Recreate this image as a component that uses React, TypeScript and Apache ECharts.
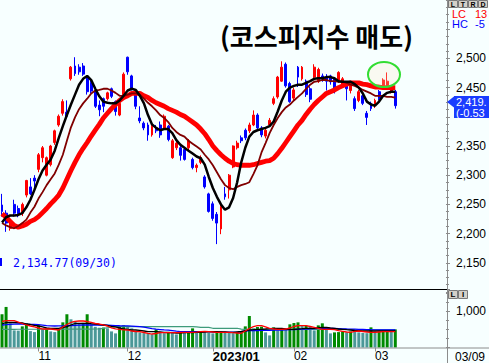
import React, { useEffect, useRef } from 'react';
import * as echarts from 'echarts';

const dates = [
  '2022/10/19','2022/10/20','2022/10/21','2022/10/24','2022/10/25','2022/10/26','2022/10/27','2022/10/28','2022/10/31',
  '2022/11/01','2022/11/02','2022/11/03','2022/11/04','2022/11/07','2022/11/08','2022/11/09','2022/11/10','2022/11/11','2022/11/14','2022/11/15','2022/11/16','2022/11/17','2022/11/18','2022/11/21','2022/11/22','2022/11/23','2022/11/24','2022/11/25','2022/11/28','2022/11/29','2022/11/30',
  '2022/12/01','2022/12/02','2022/12/05','2022/12/06','2022/12/07','2022/12/08','2022/12/09','2022/12/12','2022/12/13','2022/12/14','2022/12/15','2022/12/16','2022/12/19','2022/12/20','2022/12/21','2022/12/22','2022/12/23','2022/12/26','2022/12/27','2022/12/28','2022/12/29',
  '2023/01/02','2023/01/03','2023/01/04','2023/01/05','2023/01/06','2023/01/09','2023/01/10','2023/01/11','2023/01/12','2023/01/13','2023/01/16','2023/01/17','2023/01/18','2023/01/19','2023/01/20','2023/01/25','2023/01/26','2023/01/27','2023/01/30','2023/01/31',
  '2023/02/01','2023/02/02','2023/02/03','2023/02/06','2023/02/07','2023/02/08','2023/02/09','2023/02/10','2023/02/13','2023/02/14','2023/02/15','2023/02/16','2023/02/17','2023/02/20','2023/02/21','2023/02/22','2023/02/23','2023/02/24','2023/02/27','2023/02/28',
  '2023/03/02','2023/03/03','2023/03/06','2023/03/07','2023/03/08','2023/03/09',
];

const opens = [
  2249,2235,2209,2250,2243,2235,2266,2280,2295,2310,
  2330,2300,2318,2356,2386,2406,2408,2465,2487,2485,
  2487,2468,2458,2445,2420,2431,2431,2448,2426,2403,
  2431,2502,2470,2440,2398,2389,2386,2369,2381,2386,
  2381,2384,2330,2347,2347,2344,2347,2327,2313,2322,
  2297,2268,2251,2233,2208,2268,2275,2314,2347,2364,
  2377,2376,2386,2403,2381,2367,2386,2423,2434,2461,
  2490,2457,2432,2485,2465,2461,2448,2468,2461,2470,
  2468,2470,2465,2461,2453,2455,2445,2431,2428,2436,
  2406,2423,2419,2443,2451,2453,2443,2443,
];
const closes = [
  2238,2218,2218,2235,2233,2250,2291,2268,2290,2335,
  2347,2330,2350,2376,2401,2426,2401,2485,2474,2477,
  2473,2443,2444,2418,2412,2418,2441,2435,2409,2423,
  2473,2477,2448,2418,2393,2381,2369,2384,2376,2369,
  2401,2361,2359,2355,2334,2327,2359,2313,2317,2330,
  2280,2238,2226,2218,2246,2263,2300,2350,2355,2359,
  2364,2386,2403,2381,2369,2377,2394,2431,2468,2485,
  2453,2426,2446,2468,2485,2438,2430,2485,2481,2465,
  2461,2460,2445,2476,2465,2448,2455,2414,2443,2423,
  2399,2414,2428,2431,2463,2461,2451,2419,
];
const lows = [
  2229,2203,2205,2229,2228,2230,2262,2266,2276,2305,
  2322,2298,2315,2352,2383,2402,2401,2462,2470,2472,
  2470,2438,2440,2415,2401,2408,2428,2432,2402,2401,
  2429,2472,2445,2413,2389,2377,2359,2366,2372,2364,
  2378,2358,2328,2343,2325,2325,2343,2310,2305,2319,
  2277,2236,2222,2182,2199,2258,2260,2312,2344,2355,
  2360,2372,2384,2378,2365,2363,2383,2420,2431,2460,
  2450,2424,2428,2451,2462,2434,2425,2465,2458,2460,
  2445,2455,2440,2458,2450,2428,2440,2410,2425,2420,
  2386,2410,2415,2428,2448,2451,2440,2414,
];
const highs = [
  2268,2240,2222,2258,2248,2253,2292,2295,2300,2338,
  2350,2332,2352,2378,2404,2430,2428,2487,2502,2490,
  2492,2470,2462,2448,2428,2433,2443,2450,2428,2428,
  2476,2503,2472,2442,2418,2392,2390,2388,2386,2392,
  2404,2386,2362,2362,2350,2347,2362,2330,2320,2334,
  2300,2270,2255,2237,2249,2280,2302,2351,2359,2368,
  2380,2390,2411,2406,2384,2381,2398,2435,2470,2495,
  2493,2460,2450,2487,2487,2464,2452,2490,2484,2474,
  2473,2472,2468,2478,2468,2460,2458,2435,2446,2440,
  2410,2426,2431,2446,2466,2476,2454,2446,
];

// moving averages (5, 10, 20 day)
const ma5 = [
  2219,2228,2231,2231,2232,2235,2245,2258,2275,2293,
  2308,2318,2327,2342,2364,2384,2403,2421,2438,2455,
  2465,2470,2463,2448,2435,2426,2424,2423,2423,2428,
  2436,2445,2448,2446,2436,2423,2403,2387,2381,2377,
  2379,2379,2372,2360,2352,2347,2342,2337,2332,2329,
  2318,2297,2278,2263,2250,2241,2245,2261,2288,2322,
  2347,2366,2374,2377,2379,2381,2384,2392,2409,2428,
  2443,2450,2453,2455,2455,2458,2461,2465,2466,2466,
  2468,2468,2466,2461,2460,2460,2460,2456,2450,2440,
  2426,2421,2419,2426,2436,2441,2443,2443,
];
const ma10 = [
  2218,2214,2211,2209,2213,2218,2224,2236,2246,2260,
  2271,2283,2293,2303,2318,2335,2359,2382,2399,2413,
  2423,2431,2440,2445,2446,2448,2448,2445,2441,2436,
  2436,2438,2440,2440,2438,2431,2424,2418,2411,2403,
  2398,2391,2381,2374,2369,2366,2359,2354,2349,2344,
  2335,2327,2317,2305,2293,2283,2278,2276,2280,2283,
  2285,2288,2302,2317,2339,2355,2372,2386,2398,2408,
  2416,2421,2428,2434,2440,2448,2455,2460,2461,2463,
  2463,2461,2461,2460,2460,2458,2455,2453,2450,2446,
  2443,2440,2436,2436,2436,2434,2434,2433,
];
const ma20 = [
  2234,2228,2221,2214,2211,2213,2216,2221,2224,2229,
  2236,2243,2251,2258,2266,2278,2293,2308,2322,2335,
  2346,2356,2367,2377,2387,2398,2406,2414,2421,2428,
  2433,2436,2440,2440,2440,2436,2433,2428,2424,2421,
  2418,2414,2411,2408,2404,2401,2396,2391,2386,2379,
  2371,2361,2350,2342,2335,2329,2324,2320,2318,2317,
  2317,2317,2318,2320,2322,2324,2325,2329,2337,2346,
  2356,2366,2376,2386,2394,2404,2413,2421,2428,2434,
  2440,2443,2446,2450,2453,2456,2458,2458,2458,2456,
  2455,2453,2451,2451,2450,2450,2450,2450,
];

const volumes = [
  917,1119,667,472,465,583,667,453,425,611,
  500,528,444,425,528,694,917,778,731,667,
  680,917,639,570,545,550,528,444,389,583,
  611,564,528,444,417,397,389,361,500,425,
  397,417,410,361,405,400,420,528,425,444,
  425,417,389,417,444,420,410,389,417,425,
  583,869,528,564,575,417,333,556,472,500,
  490,639,675,694,592,600,564,472,611,667,
  564,389,417,425,444,417,444,440,417,400,
  395,556,440,445,450,455,430,500,
];
const volMa5 = [
  717,739,739,739,703,662,621,593,566,538,
  510,510,510,497,483,566,634,690,723,731,
  731,717,690,662,648,621,593,543,516,502,
  488,483,455,441,436,414,392,372,386,408,
  408,408,408,408,414,419,419,419,425,440,
  441,436,428,419,419,419,419,408,400,392,
  455,524,574,601,601,566,530,510,502,502,
  510,538,579,601,601,601,579,557,530,502,
  502,502,491,463,447,428,419,447,455,441,
  428,419,419,428,436,436,436,436,
];
const volMa10 = [
  648,690,695,690,684,676,648,634,612,593,
  566,538,530,530,530,552,574,621,662,668,
  668,668,657,648,634,621,607,585,566,538,
  510,502,483,483,474,455,436,436,436,428,
  419,414,408,400,400,408,408,414,419,419,
  428,436,436,436,433,428,419,414,428,441,
  455,483,491,502,502,510,519,530,530,524,
  510,502,502,510,519,530,530,530,546,557,
  552,538,530,510,502,491,483,469,463,455,
  455,455,455,455,455,455,455,455,
];
const volMa20 = [
  621,630,640,645,648,645,642,640,638,630,
  620,605,595,593,595,598,601,606,612,618,
  621,621,621,621,621,621,618,612,606,600,
  596,594,590,585,575,560,540,520,505,495,
  485,480,465,450,440,436,436,436,436,436,
  436,436,425,425,425,425,425,425,419,440,
  455,463,465,468,470,472,475,478,480,483,
  488,492,496,502,505,510,515,520,525,528,
  530,530,525,520,515,510,508,505,502,500,
  495,490,486,483,483,483,483,483,
];
const volMa60 = [
  502,502,502,502,503,503,503,504,504,504,
  505,505,505,505,505,506,506,506,507,507,
  508,508,509,510,515,530,545,560,570,575,
  575,575,575,575,575,575,575,575,575,575,
  575,575,575,575,575,575,575,575,570,557,
  557,557,530,530,530,530,530,530,530,505,
  502,502,502,502,502,502,502,502,502,502,
  502,502,502,502,502,502,502,502,502,502,
  502,502,502,502,502,502,490,490,490,490,
  490,490,490,490,490,490,490,490,
];

const lowLabel = '2,134.77(09/30)';
const lastPrice = '2,419.';
const lastChange = '(-0.53';
const lastDate = '03/09';
const lcText = ['LC', '13'];
const hcText = ['HC', '-5'];
const title = '(코스피지수 매도)';

const PAD_SLOTS = 12;

function fmtThousands(v: number): string {
  return String(v).replace(/\B(?=(\d{3})+(?!\d))/g, ',');
}

export default function App() {
  const ref = useRef<HTMLDivElement>(null);

  useEffect(() => {
    if (!ref.current) return;
    const chart = echarts.init(ref.current, undefined, { renderer: 'svg' });

    const cats = [...dates, ...Array.from({ length: PAD_SLOTS }, (_, i) => `pad${i}`)];
    const monthStart: Record<number, string> = {};
    dates.forEach((d, i) => {
      if (i === 0) return;
      const [y, m] = d.split('/');
      const [py, pm] = dates[i - 1].split('/');
      if (m !== pm) monthStart[i] = y !== py ? `{b|${y}/${m}}` : m;
    });
    const isMonthStart = (i: number) => monthStart[i] !== undefined;

    const candleData = dates.map((_, i) => [opens[i], closes[i], lows[i], highs[i]]);
    const GREEN = '#008a00';
    const TEAL = '#4b9898';
    const volData = volumes.map((v, i) => ({
      value: v,
      itemStyle: { color: i === 0 || v >= volumes[i - 1] ? GREEN : TEAL },
    }));

    const font = 'Liberation Sans';
    const axisGray = '#8c8c8c';
    const BLUE_BOX = '#1a3cff';

    const lineSeries = (name: string, data: number[], color: string, width: number, xi: number, yi: number) => ({
      name,
      type: 'line',
      xAxisIndex: xi,
      yAxisIndex: yi,
      data,
      showSymbol: false,
      symbol: 'none',
      smooth: false,
      lineStyle: { color, width },
      silent: true,
    });

    const button = (x: number, y: number, w: number, h: number, label: string, ty: number, fs: number) => [
      { type: 'rect', shape: { x, y, width: w, height: h }, style: { fill: '#d4d0c8', stroke: '#7a7a7a', lineWidth: 1 }, z: 120 },
      {
        type: 'text', x: x + w / 2, y: ty, z: 121,
        style: { text: label, fill: '#000', fontSize: fs, lineHeight: fs, fontWeight: 'bold', fontFamily: font, align: 'center', verticalAlign: 'middle' },
      },
    ];

    const option: any = {
      animation: false,
      backgroundColor: '#f7ffff',
      grid: [
        { left: 0, right: 42, top: -5.5, height: 297.5 },
        { left: 0, right: 42, top: 289.5, height: 58 },
      ],
      xAxis: [
        { type: 'category', gridIndex: 0, data: cats, boundaryGap: true, show: false },
        {
          type: 'category', gridIndex: 1, data: cats, boundaryGap: true, position: 'bottom',
          axisLine: { show: false },
          axisTick: { show: true, alignWithLabel: true, length: 4, interval: (i: number) => isMonthStart(i), lineStyle: { color: axisGray } },
          axisLabel: {
            interval: (i: number) => isMonthStart(i),
            formatter: (_v: string, i: number) => monthStart[i] ?? '',
            align: 'left', margin: 2, color: '#000', fontFamily: font, fontSize: 12,
            rich: { b: { fontWeight: 'bold', fontSize: 13, fontFamily: font, color: '#000' } },
          },
          splitLine: { show: false },
        },
      ],
      yAxis: [
        {
          type: 'value', gridIndex: 0, position: 'right', min: 2100, max: 2600, interval: 50,
          axisLine: { show: false },
          axisTick: { show: true, length: 4, lineStyle: { color: axisGray } },
          minorTick: { show: true, splitNumber: 4, length: 3, lineStyle: { color: axisGray } },
          axisLabel: {
            margin: 10, color: '#000', fontFamily: font, fontSize: 12,
            formatter: (v: number) => (v >= 2150 && v <= 2500 && v !== 2400 ? fmtThousands(v) : ''),
          },
          splitLine: { show: false },
        },
        {
          type: 'value', gridIndex: 1, position: 'right', min: 0, max: 1600, interval: 1000,
          axisLine: { show: false },
          axisTick: { show: true, length: 4, lineStyle: { color: axisGray } },
          minorTick: { show: true, splitNumber: 4, length: 3, lineStyle: { color: axisGray } },
          axisLabel: {
            margin: 10, color: '#000', fontFamily: font, fontSize: 12,
            formatter: (v: number) => (v === 1000 ? fmtThousands(v) : ''),
          },
          splitLine: { show: false },
        },
      ],
      series: [
        {
          name: 'KOSPI', type: 'candlestick', xAxisIndex: 0, yAxisIndex: 0, data: candleData,
          barWidth: 2.4,
          itemStyle: { color: '#ff0000', color0: '#0000ff', borderColor: '#ff0000', borderColor0: '#0000ff', borderWidth: 1 },
          silent: true,
        },
        lineSeries('MA20', ma20, '#ff0000', 4.8, 0, 0),
        lineSeries('MA10', ma10, '#800000', 1.8, 0, 0),
        lineSeries('MA5', ma5, '#000000', 2.5, 0, 0),
        { name: 'Volume', type: 'bar', xAxisIndex: 1, yAxisIndex: 1, data: volData, barWidth: 3, silent: true },
        lineSeries('VMA60', volMa60, '#3d9b7b', 1.2, 1, 1),
        lineSeries('VMA20', volMa20, '#0000ff', 1.3, 1, 1),
        lineSeries('VMA10', volMa10, '#000000', 1.3, 1, 1),
        lineSeries('VMA5', volMa5, '#ff0000', 1.3, 1, 1),
      ],
      graphic: [
        { type: 'line', z: 100, shape: { x1: 0, y1: 289.5, x2: 447, y2: 289.5 }, style: { stroke: '#000', lineWidth: 1 } },
        { type: 'line', z: 100, shape: { x1: 447.5, y1: 0, x2: 447.5, y2: 363 }, style: { stroke: axisGray, lineWidth: 1 } },
        { type: 'line', z: 100, shape: { x1: 0, y1: 348, x2: 489, y2: 348 }, style: { stroke: axisGray, lineWidth: 1 } },
        { type: 'ellipse', z: 100, shape: { cx: 384, cy: 74.5, rx: 16, ry: 12.5 }, style: { fill: 'rgba(255,230,200,0.25)', stroke: '#33dd33', lineWidth: 2 } },
        {
          type: 'text', z: 100, x: 220, y: 35,
          style: { text: title, fontSize: 26, fontWeight: 'bold', fontFamily: 'Noto Sans CJK KR', fill: '#000', align: 'left', verticalAlign: 'middle' },
        },
        { type: 'rect', z: 100, shape: { x: 0, y: 258, width: 2, height: 8 }, style: { fill: '#0000ff' } },
        {
          type: 'text', z: 100, x: 13, y: 262.5,
          style: { text: lowLabel, fontSize: 11.5, fontFamily: 'DejaVu Sans Mono', fill: '#0000ff', align: 'left', verticalAlign: 'middle' },
        },
        { type: 'text', z: 100, x: 452, y: 13.5, style: { text: lcText[0], fontSize: 11, fontFamily: font, fill: '#ff0000', verticalAlign: 'middle' } },
        { type: 'text', z: 100, x: 475, y: 13.5, style: { text: lcText[1], fontSize: 11, fontFamily: font, fill: '#ff0000', verticalAlign: 'middle' } },
        { type: 'text', z: 100, x: 452, y: 24, style: { text: hcText[0], fontSize: 11, fontFamily: font, fill: '#0000ff', verticalAlign: 'middle' } },
        { type: 'text', z: 100, x: 475, y: 24, style: { text: hcText[1], fontSize: 11, fontFamily: font, fill: '#0000ff', verticalAlign: 'middle' } },
        { type: 'polygon', z: 110, shape: { points: [[447, 102], [454, 96.5], [454, 107.5]] }, style: { fill: BLUE_BOX } },
        { type: 'rect', z: 110, shape: { x: 454, y: 96, width: 36, height: 22 }, style: { fill: BLUE_BOX } },
        { type: 'text', z: 111, x: 456, y: 102, style: { text: lastPrice, fontSize: 11, lineHeight: 11, fontFamily: font, fill: '#fff', verticalAlign: 'middle' } },
        { type: 'text', z: 111, x: 456, y: 113, style: { text: lastChange, fontSize: 11, lineHeight: 11, fontFamily: font, fill: '#fff', verticalAlign: 'middle' } },
        ...button(448.5, 0.5, 9, 7, 'L', 4.5, 7),
        ...button(458.5, 0.5, 9, 7, 'T', 4.5, 7),
        ...button(468.5, 0.5, 9, 7, 'R', 4.5, 7),
        ...button(478.5, 0.5, 9, 7, 'D', 4.5, 7),
        ...button(448.5, 290.5, 9, 8, 'L', 294.5, 8),
        ...button(458.5, 290.5, 9, 8, 'I', 294.5, 8),
        { type: 'text', z: 100, x: 455, y: 357, style: { text: lastDate, fontSize: 12, fontFamily: font, fill: '#000', verticalAlign: 'middle' } },
      ],
    };

    chart.setOption(option);
    return () => chart.dispose();
  }, []);

  return (
    <div
      ref={ref}
      style={{ position: 'fixed', left: 0, top: 0, width: 489, height: 363, background: '#f7ffff' }}
    />
  );
}
